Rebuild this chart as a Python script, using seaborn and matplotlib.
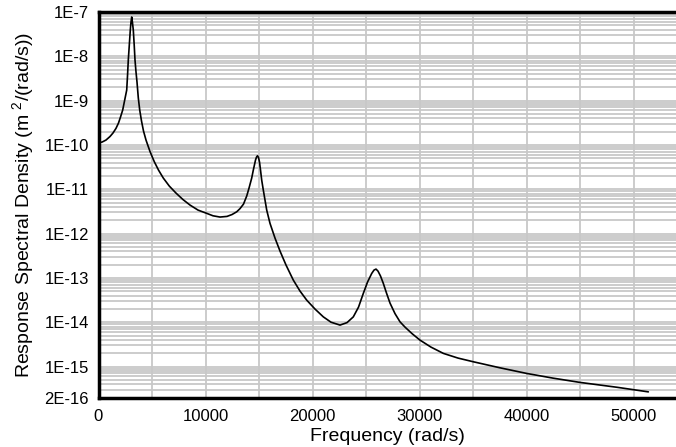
import matplotlib
matplotlib.use("Agg")
import matplotlib.pyplot as plt
import matplotlib.ticker as mticker
import seaborn as sns
import pandas as pd

# Data
freq = [0, 327, 701, 1075, 1355, 1636, 1869, 2056, 2262, 2430, 2636, 2710,
        2785, 2879, 2972, 3037, 3103, 3168, 3252, 3337, 3411, 3505, 3598, 3720,
        3851, 4019, 4206, 4439, 4813, 5215, 5608, 6056, 6617, 7243, 7897, 8552,
        9299, 10112, 10701, 11355, 12009, 12477, 12916, 13225, 13552, 13851,
        14066, 14318, 14468, 14673, 14767, 14860, 14954, 15047, 15141, 15252,
        15402, 15561, 15720, 16028, 16495, 16963, 17524, 18206, 18832, 19458,
        20234, 21010, 21730, 22571, 23225, 23813, 24300, 24748, 25141, 25533,
        25748, 25935, 26122, 26356, 26617, 26916, 27243, 27711, 28178, 28645,
        29300, 30047, 31075, 32225, 33600, 35030, 37525, 40020, 42477, 45000,
        48503, 51384]
psd = [1.122e-10, 1.16e-10, 1.29e-10, 1.55e-10, 1.86e-10, 2.37e-10, 3.12e-10,
       4.26e-10, 6.14e-10, 9.8e-10, 1.73e-9, 3.59e-9, 8.25e-9, 1.80e-8, 3.92e-8,
       5.94e-8, 7.71e-8, 5.94e-8, 3.92e-8, 1.80e-8, 8.25e-9, 4.42e-9, 2.63e-9,
       1.15e-9, 6.14e-10, 3.47e-10, 2.06e-10, 1.29e-10, 7.10e-11, 4.18e-11,
       2.71e-11, 1.79e-11, 1.18e-11, 8.20e-12, 5.85e-12, 4.40e-12, 3.39e-12,
       2.86e-12, 2.52e-12, 2.36e-12, 2.44e-12, 2.69e-12, 3.10e-12, 3.66e-12,
       4.63e-12, 7.03e-12, 1.06e-11, 1.79e-11, 2.71e-11, 4.56e-11, 5.33e-11,
       5.70e-11, 5.20e-11, 4.11e-11, 2.71e-11, 1.61e-11, 9.59e-12, 5.70e-12,
       3.39e-12, 1.70e-12, 7.91e-13, 4.03e-13, 1.95e-13, 8.91e-14, 5.04e-14,
       3.15e-14, 1.98e-14, 1.32e-14, 1.00e-14, 8.61e-15, 9.79e-15, 1.32e-14,
       2.19e-14, 4.47e-14, 8.04e-14, 1.26e-13, 1.50e-13, 1.58e-13, 1.42e-13,
       1.10e-13, 7.52e-14, 4.54e-14, 2.70e-14, 1.56e-14, 1.02e-14, 7.75e-15,
       5.53e-15, 3.94e-15, 2.74e-15, 1.98e-15, 1.55e-15, 1.28e-15, 9.35e-16,
       6.98e-16, 5.47e-16, 4.38e-16, 3.39e-16, 2.68e-16]

xtick_vals = [0, 10000, 20000, 30000, 40000, 50000]
xtick_labels = ["0", "10000", "20000", "30000", "40000", "50000"]
ytick_vals = [1e-7, 1e-8, 1e-9, 1e-10, 1e-11, 1e-12, 1e-13, 1e-14, 1e-15, 2e-16]
ytick_labels = ["1E-7", "1E-8", "1E-9", "1E-10", "1E-11", "1E-12", "1E-13",
                "1E-14", "1E-15", "2E-16"]

sns.set_theme(style="white")
plt.rcParams["font.family"] = ["Liberation Sans", "DejaVu Sans"]
plt.rcParams["mathtext.fontset"] = "custom"
plt.rcParams["mathtext.rm"] = "Liberation Sans"
plt.rcParams["mathtext.default"] = "regular"

fig = plt.figure(figsize=(6.76, 4.47), dpi=100)
ax = fig.add_axes([98.5 / 676, 49.5 / 447, (676 - 98.5) / 676, (397.5 - 12) / 447])

df = pd.DataFrame({"freq": freq, "psd": psd})
sns.lineplot(data=df, x="freq", y="psd", ax=ax, color="black", linewidth=1.2,
             estimator=None, sort=False, zorder=3)

ax.set_yscale("log")
ax.set_xlim(0, 53970)
ax.set_ylim(2e-16, 1e-7)

ax.xaxis.set_major_locator(mticker.FixedLocator(xtick_vals))
ax.xaxis.set_major_formatter(mticker.FixedFormatter(xtick_labels))
ax.xaxis.set_minor_locator(mticker.MultipleLocator(5000))
ax.yaxis.set_major_locator(mticker.FixedLocator(ytick_vals))
ax.yaxis.set_major_formatter(mticker.FixedFormatter(ytick_labels))
ax.yaxis.set_minor_locator(mticker.LogLocator(base=10, subs=range(2, 10), numticks=30))
ax.yaxis.set_minor_formatter(mticker.NullFormatter())

ax.grid(True, which="both", axis="both", color="#c8c8c8", linewidth=1.3)
ax.set_axisbelow(True)
ax.tick_params(which="both", length=0)
ax.tick_params(axis="x", labelsize=12, pad=8, colors="black")
ax.tick_params(axis="y", labelsize=12, pad=7, colors="black")

for side in ["left", "bottom", "top"]:
    ax.spines[side].set_visible(True)
    ax.spines[side].set_color("black")
    ax.spines[side].set_linewidth(2.5)
ax.spines["right"].set_visible(False)

ax.set_xlabel("Frequency (rad/s)", fontsize=14, labelpad=3, color="black")
ax.set_ylabel("Response Spectral Density (m $^{2}$/(rad/s))", fontsize=14,
              labelpad=6, color="black")

fig.savefig("out.png", dpi=100)
